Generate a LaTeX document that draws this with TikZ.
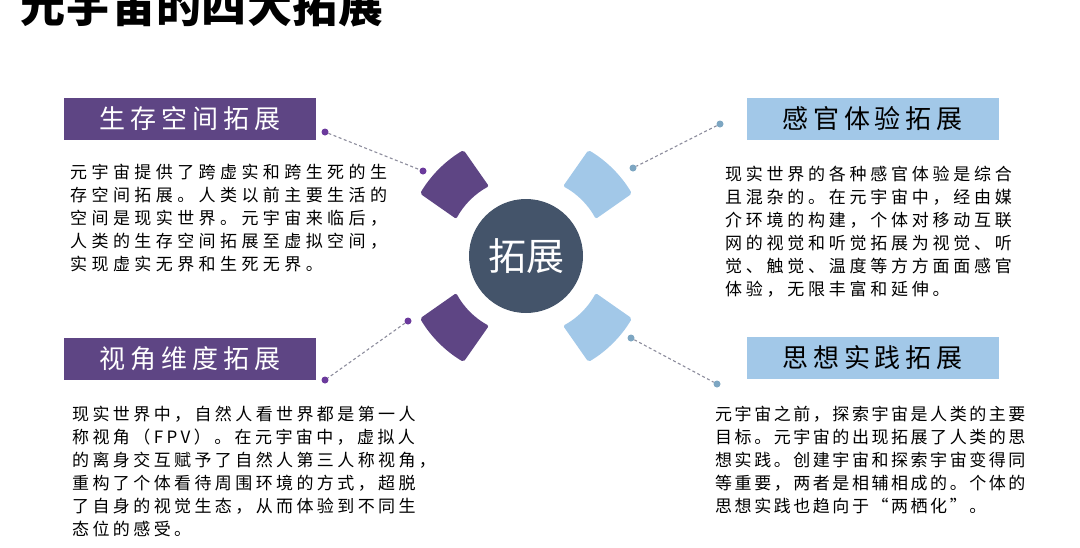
\documentclass[tikz,border=0pt]{standalone}
\usepackage{fontspec}
\setmainfont{Noto Sans CJK SC}
\usetikzlibrary{calc}
\definecolor{metapurple}{HTML}{5E4584}
\definecolor{metablue}{HTML}{A2C8E8}
\definecolor{metahub}{HTML}{44546A}
\definecolor{dotpurple}{HTML}{6B3A9C}
\definecolor{dotblue}{HTML}{7DA6C2}
\definecolor{dashgrey}{HTML}{8C8C9C}
\newcommand{\bodyfont}[1]{\fontsize{17}{23}\selectfont\addfontfeature{LetterSpace=#1}}
\tikzstyle{head_box}=[rectangle,
                      minimum width=252,
                      minimum height=42,
                      inner sep=0,
                      font=\fontsize{26}{26}\selectfont\addfontfeature{LetterSpace=19}]
\tikzstyle{body_text}=[anchor=north west,
                       align=left,
                       inner sep=0]
\tikzstyle{end_dot}=[circle, inner sep=0, minimum size=7]
\tikzstyle{link_line}=[dashgrey, line width=1.1, dash pattern=on 3pt off 2.5pt]

\begin{document}
\begin{tikzpicture}[x=1pt, y=-1pt]
    \useasboundingbox (0,0) rectangle (1080,547);
    \node at (20, 22) (Title) [anchor=base west, inner sep=0, font=\fontsize{45}{45}\selectfont\bfseries\addfontfeature{LetterSpace=1}] {元宇宙的四大拓展};

    % hub and the four block arcs
    \node at (526, 256) (Hub) [circle, fill=metahub, minimum size=114, inner sep=0, text=white, font=\fontsize{38}{38}\selectfont] {拓展};
    \foreach \ang/\col in {225/metapurple, 315/metablue, 135/metapurple, 45/metablue} {
        \fill[\col, rounded corners=2] ($(Hub)+(\ang-17:79)$) arc[start angle=\ang-17, end angle=\ang+17, radius=79]
            -- ($(Hub)+(\ang+14.5:123)$) arc[start angle=\ang+14.5, end angle=\ang-14.5, radius=123] -- cycle;
    }

    \node at (190, 118.5) (LiveHead) [head_box, fill=metapurple, text=white] {生存空间拓展};
    \node at (872.5, 118.5) (SenseHead) [head_box, fill=metablue, text=black] {感官体验拓展};
    \node at (190, 359) (ViewHead) [head_box, fill=metapurple, text=white] {视角维度拓展};
    \node at (872.5, 358) (ThinkHead) [head_box, fill=metablue, text=black] {思想实践拓展};

    \node at (70, 163.5) (LiveText) [body_text, font=\bodyfont{26}] {元宇宙提供了跨虚实和跨生死的生\\存空间拓展。人类以前主要生活的\\空间是现实世界。元宇宙来临后，\\人类的生存空间拓展至虚拟空间，\\实现虚实无界和生死无界。};
    \node at (725, 165.5) (SenseText) [body_text, font=\bodyfont{22}] {现实世界的各种感官体验是综合\\且混杂的。在元宇宙中，经由媒\\介环境的构建，个体对移动互联\\网的视觉和听觉拓展为视觉、听\\觉、触觉、温度等方方面面感官\\体验，无限丰富和延伸。};
    \node at (72, 405.5) (ViewText) [body_text, font=\bodyfont{20}] {现实世界中，自然人看世界都是第一人\\称视角（FPV）。在元宇宙中，虚拟人\\的离身交互赋予了自然人第三人称视角，\\重构了个体看待周围环境的方式，超脱\\了自身的视觉生态，从而体验到不同生\\态位的感受。};
    \node at (715, 405.5) (ThinkText) [body_text, font=\bodyfont{15}] {元宇宙之前，探索宇宙是人类的主要\\目标。元宇宙的出现拓展了人类的思\\想实践。创建宇宙和探索宇宙变得同\\等重要，两者是相辅相成的。个体的\\思想实践也趋向于“两栖化”。};

    % dotted leaders
    \node at (325, 132) (LiveA) [end_dot, fill=dotpurple] {};
    \node at (423, 171) (LiveB) [end_dot, fill=dotpurple] {};
    \node at (720, 124) (SenseA) [end_dot, fill=dotblue] {};
    \node at (633, 168) (SenseB) [end_dot, fill=dotblue] {};
    \node at (408, 321) (ViewA) [end_dot, fill=dotpurple] {};
    \node at (325, 380) (ViewB) [end_dot, fill=dotpurple] {};
    \node at (631, 338) (ThinkA) [end_dot, fill=dotblue] {};
    \node at (717, 384) (ThinkB) [end_dot, fill=dotblue] {};

    \draw[link_line] (LiveA) -- (LiveB);
    \draw[link_line] (SenseA) -- (SenseB);
    \draw[link_line] (ViewA) -- (ViewB);
    \draw[link_line] (ThinkA) -- (ThinkB);
  \end{tikzpicture}
\end{document}
